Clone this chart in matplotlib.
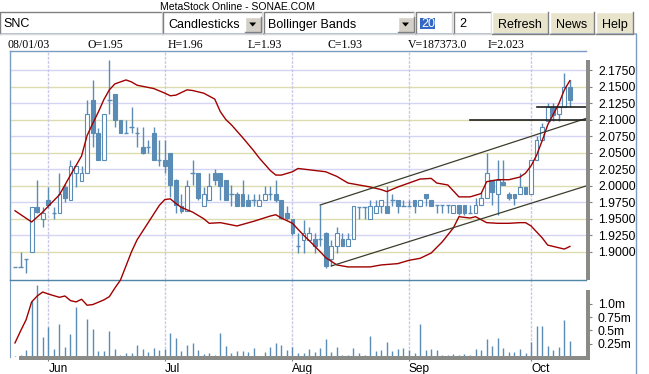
import numpy as np
import pandas as pd
import matplotlib
matplotlib.use("Agg")
import matplotlib.pyplot as plt
from matplotlib.patches import Rectangle, Polygon

plt.rcParams['font.family'] = 'Liberation Sans'

# ---- data -------------------------------------------------------------
dates = pd.bdate_range('2003-05-23', periods=101)

opens = [1.877, 1.877, 1.889, 1.899, 1.968, 1.949, 1.979, 1.958, 1.958, 1.998,
         1.979, 2.019, 2.007, 2.019, 2.130, 2.079, 2.039, 2.130, 2.139, 2.099,
         2.079, 2.089, 2.079, 2.059, 2.059, 2.079, 2.039, 2.039, 2.049, 2.008,
         1.969, 1.961, 2.019, 2.019, 1.969, 1.979, 2.019, 2.019, 2.008, 1.988,
         1.988, 1.988, 1.979, 1.979, 1.969, 1.979, 1.988, 1.988, 1.979, 1.959,
         1.950, 1.908, 1.918, 1.918, 1.919, 1.919, 1.928, 1.889, 1.909, 1.919,
         1.909, 1.919, 1.968, 1.968, 1.949, 1.959, 1.969, 1.969, 1.978, 1.978,
         1.969, 1.969, 1.978, 1.969, 1.988, 1.979, 1.970, 1.970, 1.970, 1.958,
         1.970, 1.970, 1.958, 1.958, 1.970, 1.981, 2.008, 1.988, 2.006, 1.988,
         1.988, 1.988, 1.998, 1.988, 2.039, 2.069, 2.098, 2.119, 2.109, 2.119,
         2.150]
highs = [1.877, 1.900, 1.889, 1.968, 2.008, 1.968, 1.998, 1.968, 2.019, 2.003,
         2.039, 2.030, 2.030, 2.130, 2.160, 2.088, 2.109, 2.190, 2.139, 2.099,
         2.099, 2.119, 2.089, 2.089, 2.069, 2.089, 2.069, 2.069, 2.049, 2.010,
         1.988, 2.008, 2.039, 2.019, 1.998, 2.019, 2.025, 2.019, 2.008, 2.001,
         1.990, 2.008, 1.988, 1.988, 1.988, 1.999, 1.999, 2.008, 1.979, 1.969,
         1.950, 1.928, 1.948, 1.938, 1.928, 1.970, 1.930, 1.918, 1.938, 1.928,
         1.929, 1.969, 1.968, 1.968, 1.978, 1.978, 1.978, 1.999, 1.988, 1.978,
         1.978, 1.978, 1.978, 1.979, 1.988, 1.979, 1.970, 1.970, 1.970, 1.970,
         1.970, 1.970, 1.970, 1.981, 1.991, 2.050, 2.008, 2.039, 2.039, 1.991,
         1.988, 2.019, 1.998, 2.039, 2.075, 2.095, 2.125, 2.125, 2.119, 2.170,
         2.160]
lows = [1.877, 1.877, 1.868, 1.899, 1.958, 1.938, 1.966, 1.949, 1.958, 1.975,
        1.979, 1.998, 2.007, 2.019, 2.059, 2.039, 2.039, 2.109, 2.089, 2.079,
        2.079, 2.079, 2.059, 2.048, 2.049, 2.039, 2.029, 2.019, 1.983, 1.959,
        1.958, 1.961, 2.001, 1.979, 1.969, 1.979, 2.001, 1.978, 1.979, 1.969,
        1.969, 1.969, 1.969, 1.969, 1.969, 1.979, 1.979, 1.975, 1.950, 1.948,
        1.925, 1.898, 1.898, 1.918, 1.898, 1.909, 1.876, 1.878, 1.898, 1.909,
        1.909, 1.919, 1.949, 1.949, 1.949, 1.959, 1.959, 1.959, 1.969, 1.959,
        1.969, 1.969, 1.959, 1.969, 1.969, 1.969, 1.958, 1.958, 1.958, 1.958,
        1.955, 1.955, 1.958, 1.958, 1.970, 1.981, 1.970, 1.955, 2.001, 1.978,
        1.970, 1.988, 1.988, 1.988, 2.039, 2.069, 2.098, 2.098, 2.098, 2.119,
        2.119]
closes = [1.877, 1.877, 1.889, 1.968, 1.960, 1.958, 1.971, 1.958, 1.988, 1.981,
          2.029, 2.030, 2.019, 2.109, 2.080, 2.039, 2.109, 2.130, 2.099, 2.079,
          2.079, 2.089, 2.079, 2.050, 2.059, 2.039, 2.039, 2.029, 2.001, 1.971,
          1.961, 1.999, 2.019, 1.981, 1.988, 1.999, 2.008, 2.000, 1.979, 1.988,
          1.969, 1.969, 1.969, 1.979, 1.979, 1.988, 1.988, 1.979, 1.951, 1.951,
          1.929, 1.908, 1.928, 1.928, 1.909, 1.919, 1.878, 1.908, 1.928, 1.909,
          1.919, 1.969, 1.968, 1.968, 1.969, 1.969, 1.978, 1.959, 1.978, 1.969,
          1.969, 1.969, 1.969, 1.979, 1.981, 1.969, 1.970, 1.970, 1.970, 1.970,
          1.958, 1.958, 1.958, 1.970, 1.981, 2.019, 1.991, 2.008, 2.001, 1.981,
          1.981, 1.998, 1.988, 2.039, 2.069, 2.089, 2.119, 2.107, 2.119, 2.150,
          2.130]
# volume in millions
volume = [0.019, 0.038, 0.125, 1.051, 1.351, 0.375, 0.563, 0.144, 0.625, 0.188,
          0.438, 0.938, 0.019, 0.719, 0.531, 0.113, 0.113, 0.488, 0.144, 0.038,
          0.081, 0.081, 0.225, 0.144, 0.100, 0.175, 0.131, 0.156, 0.450, 0.356,
          0.113, 0.225, 0.263, 0.125, 0.063, 0.081, 0.038, 0.450, 0.206, 0.075,
          0.113, 0.113, 0.094, 0.169, 0.019, 0.094, 0.188, 0.269, 0.225, 0.131,
          0.188, 0.075, 0.075, 0.144, 0.100, 0.163, 0.338, 0.100, 0.194, 0.038,
          0.038, 0.175, 0.075, 0.038, 0.400, 0.119, 0.131, 0.288, 0.119, 0.150,
          0.175, 0.131, 0.075, 0.613, 0.131, 0.150, 0.131, 0.038, 0.038, 0.056,
          0.038, 0.056, 0.038, 0.150, 0.131, 0.338, 0.206, 0.363, 0.169, 0.100,
          0.100, 0.150, 0.075, 0.288, 0.582, 0.582, 0.206, 0.131, 0.194, 0.694,
          0.306]

# Bollinger bands (20, 2)
upper_idx = [0, 3, 5, 6, 8, 10, 12, 13, 14, 15, 16, 17, 18, 20, 21, 22, 25, 27, 28, 29,
             31, 32, 34, 36, 37, 38, 39, 41, 43, 44, 46, 47, 48, 50, 51, 53, 56, 58, 60, 64,
             66, 67, 69, 71, 73, 75, 76, 78, 80, 82, 84, 85, 87, 89, 91, 92, 93, 94, 95, 96,
             97, 98, 99, 100]
upper_val = [1.962, 1.945, 1.960, 1.969, 1.986, 2.016, 2.045, 2.076, 2.094, 2.111, 2.130, 2.145,
             2.154, 2.160, 2.157, 2.152, 2.147, 2.140, 2.136, 2.137, 2.145, 2.144, 2.140, 2.131,
             2.112, 2.100, 2.092, 2.073, 2.053, 2.042, 2.023, 2.016, 2.016, 2.021, 2.026, 2.024,
             2.021, 2.014, 2.004, 1.998, 1.994, 1.991, 1.998, 2.004, 2.010, 2.011, 2.004, 2.001,
             1.983, 1.983, 1.988, 2.006, 2.009, 2.009, 2.013, 2.019, 2.030, 2.046, 2.068, 2.092,
             2.108, 2.124, 2.145, 2.159]
lower_idx = [0, 1, 2, 3, 4, 5, 6, 8, 9, 10, 11, 12, 13, 14, 16, 17, 18, 19, 21, 22,
             24, 26, 27, 28, 29, 30, 32, 34, 35, 37, 40, 43, 46, 47, 48, 50, 52, 53, 55, 56,
             58, 60, 64, 66, 69, 71, 73, 75, 77, 79, 80, 82, 83, 85, 87, 89, 91, 92, 93, 95,
             96, 97, 99, 100]
lower_val = [1.762, 1.780, 1.797, 1.824, 1.833, 1.839, 1.836, 1.831, 1.833, 1.826, 1.824, 1.828,
             1.819, 1.820, 1.827, 1.832, 1.845, 1.857, 1.900, 1.918, 1.944, 1.970, 1.979, 1.980,
             1.973, 1.967, 1.960, 1.950, 1.943, 1.944, 1.939, 1.946, 1.954, 1.956, 1.951, 1.943,
             1.925, 1.917, 1.900, 1.891, 1.880, 1.877, 1.877, 1.880, 1.882, 1.887, 1.890, 1.898,
             1.915, 1.936, 1.953, 1.951, 1.953, 1.944, 1.943, 1.943, 1.944, 1.944, 1.939, 1.921,
             1.910, 1.908, 1.904, 1.908]

# drawn studies: parallel channel and two horizontal lines
chan_top_x, chan_top_y = [55, 102.9], [1.9707, 2.1017]
chan_bot_x, chan_bot_y = [57, 102.9], [1.8784, 1.9995]
hl_x0 = [82, 94]
hl_y = [2.100, 2.1195]

price_ticks = [1.900, 1.925, 1.950, 1.975, 2.000, 2.025, 2.050, 2.075, 2.100, 2.125, 2.150, 2.175]
vol_ticks = [0.25, 0.5, 0.75, 1.0]
vol_labels = ['0.25m', '0.5m', '0.75m', '1.0m']

info = ['08/01/03', 'O=1.95', 'H=1.96', 'L=1.93', 'C=1.93', 'V=187373.0', 'I=2.023']

# ---- layout (pixel boxes) ---------------------------------------------
W, H = 649, 374
def box(x0, y0, x1, y1):
    return [x0 / W, 1 - y1 / H, (x1 - x0) / W, (y1 - y0) / H]

cc = '#5b8cb6'
fig = plt.figure(figsize=(W / 100, H / 100), dpi=100)
ax_v = fig.add_axes(box(10, 280, 586, 357))
ax_p = fig.add_axes(box(10, 51, 586, 280))

x = np.arange(len(dates))
o, h, l, c = map(np.array, (opens, highs, lows, closes))
month_idx = [i for i in range(1, len(dates)) if dates[i].month != dates[i - 1].month]
month_lab = [dates[i].strftime('%b') for i in month_idx]

# price panel
ax_p.set_xlim(-0.9, 102.9)
ax_p.set_ylim(1.8572, 2.2038)
for k, lvl in enumerate(price_ticks):
    ax_p.axhline(lvl, color='#dcdcb0' if k % 2 == 0 else '#d4d4f4', lw=1, zorder=0)
for m in month_idx:
    ax_p.axvline(m, color='#c8c8e8', lw=1, ls=(0, (2, 1)), zorder=0)

ax_p.vlines(x, l, h, color=cc, lw=1, zorder=2)
lo = np.minimum(o, c)
ht = np.abs(c - o)
doji = ht < 0.002
up = (c >= o) & ~doji
dn = (c < o) & ~doji
ax_p.bar(x[up], ht[up], bottom=lo[up], width=0.68, facecolor='white', edgecolor=cc, lw=0.8, zorder=3)
ax_p.bar(x[dn], ht[dn], bottom=lo[dn], width=0.68, facecolor=cc, edgecolor=cc, lw=0.8, zorder=3)
ax_p.hlines(lo[doji], x[doji] - 0.4, x[doji] + 0.4, color=cc, lw=1, zorder=3)

ax_p.plot(upper_idx, upper_val, color='#a00000', lw=1, zorder=4)
ax_p.plot(lower_idx, lower_val, color='#a00000', lw=1, zorder=4, clip_on=False)

ax_p.plot(chan_top_x, chan_top_y, color='#3c3c2c', lw=0.9, zorder=5)
ax_p.plot(chan_bot_x, chan_bot_y, color='#3c3c2c', lw=0.9, zorder=5)
for x0, yv in zip(hl_x0, hl_y):
    ax_p.plot([x0, 102.9], [yv, yv], color='#202020', lw=1.2, zorder=5)

ax_p.yaxis.tick_right()
ax_p.set_yticks(price_ticks)
ax_p.set_yticklabels(['%.4f' % t for t in price_ticks])
ax_p.tick_params(axis='y', direction='out', length=4.3, width=0.8, color='#808080', pad=4.3, labelsize=8.7)
ax_p.tick_params(axis='x', bottom=False, labelbottom=False)
ax_p.spines['right'].set_visible(False)
ax_p.spines['left'].set_color('#7a9cc0')
ax_p.spines['top'].set_color('#7a9cc0')
ax_p.spines['bottom'].set_color('#4f86a8')
for s in ax_p.spines.values():
    s.set_linewidth(1)

# volume panel
ax_v.set_xlim(-0.9, 102.9)
ax_v.set_ylim(0, 1.4446)
for m in month_idx:
    ax_v.axvline(m, color='#c8c8e8', lw=1, ls=(0, (2, 1)), zorder=0)
ax_v.vlines(x, 0, volume, color=cc, lw=1, zorder=2)
ax_v.yaxis.tick_right()
ax_v.set_yticks(vol_ticks)
ax_v.set_yticklabels(vol_labels)
ax_v.tick_params(axis='y', direction='out', length=4.3, width=0.8, color='#808080', pad=4.3, labelsize=8.7)
ax_v.set_xticks(month_idx)
ax_v.set_xticklabels(month_lab, ha='left')
ax_v.tick_params(axis='x', direction='out', length=3, width=0.8, color='#808080', pad=1.2, labelsize=8.6)
for side in ('top', 'right', 'bottom'):
    ax_v.spines[side].set_visible(False)
ax_v.spines['left'].set_color('#7a9cc0')

# ---- window chrome (pixel coordinates) --------------------------------
ui = fig.add_axes([0, 0, 1, 1])
ui.set_xlim(0, W)
ui.set_ylim(H, 0)
ui.axis('off')

grey = '#8a8a86'
ui.add_patch(Rectangle((586, 60), 4, 220, color=grey, lw=0))
ui.add_patch(Rectangle((586, 290), 4, 69, color=grey, lw=0))
ui.add_patch(Rectangle((19, 356), 571, 3.5, color=grey, lw=0))
ui.plot([0, 636], [34, 34], color='#a0b4cc', lw=1.2)
ui.plot([636, 636], [34, 374], color='#7a9cc0', lw=1)


def sunken(x0, y0, x1, y1):
    ui.add_patch(Rectangle((x0, y0), x1 - x0, y1 - y0, facecolor='white', lw=0))
    ui.plot([x0, x0, x1], [y1, y0, y0], color='#808080', lw=1)
    ui.plot([x0, x1, x1], [y1, y1, y0], color='#d8d8d8', lw=1)


def raised(x0, y0, x1, y1, fc='#e8e4cc'):
    ui.add_patch(Rectangle((x0, y0), x1 - x0, y1 - y0, facecolor=fc, lw=0))
    ui.plot([x0, x0, x1], [y1, y0, y0], color='white', lw=1)
    ui.plot([x0, x1, x1], [y1, y1, y0], color='#808080', lw=1)


def arrow(cx, cy):
    ui.add_patch(Polygon([(cx - 3.5, cy - 1.5), (cx + 3.5, cy - 1.5), (cx, cy + 2.5)],
                         closed=True, color='black', lw=0))


ui.text(237, 9.5, 'MetaStock Online - SONAE.COM', ha='center', va='baseline', fontsize=7.5)

sunken(0, 12, 162, 34)
ui.text(3, 27, 'SNC', va='baseline', fontsize=9)

sunken(163, 12, 262, 34)
raised(244.5, 16.5, 261, 31.5, fc='#d4d0c8')
arrow(252.7, 24)
ui.text(168, 27.5, 'Candlesticks', va='baseline', fontsize=9)

sunken(264, 12, 414, 34)
raised(397.5, 16.5, 413.5, 31.5, fc='#d4d0c8')
arrow(405.5, 24)
ui.text(268, 27.5, 'Bollinger Bands', va='baseline', fontsize=9)

sunken(416, 12, 452, 34)
ui.add_patch(Rectangle((420, 17.5), 15, 11, color='#3468c4', lw=0))
ui.text(421, 27, '20', va='baseline', fontsize=9, color='white')
sunken(454, 12, 491, 34)
ui.text(459, 27, '2', va='baseline', fontsize=9)

for (bx0, bx1, lab) in [(492, 548, 'Refresh'), (550, 594, 'News'), (596, 633, 'Help')]:
    raised(bx0, 12, bx1, 34)
    ui.text((bx0 + bx1) / 2, 27.5, lab, ha='center', va='baseline', fontsize=9)

for k, s in enumerate(info):
    ui.text(8 + 80 * k, 48.3, s, va='baseline', fontsize=8.5, family='Liberation Serif')

fig.savefig('out.png', dpi=100)
